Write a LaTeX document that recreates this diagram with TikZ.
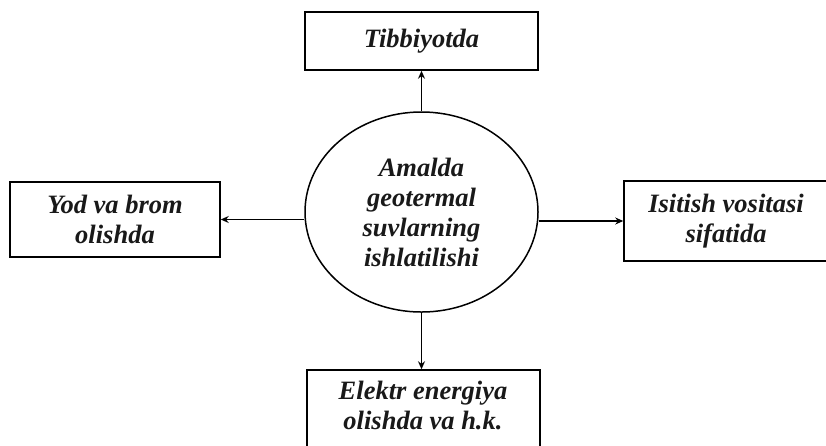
\documentclass[tikz,border=0pt]{standalone}
\usepackage{fontspec}
\setmainfont{Liberation Serif}
\usetikzlibrary{arrows.meta,shapes.geometric}
\begin{document}
\begin{tikzpicture}[x=1pt,y=-1pt,
  lbl/.style={font=\fontsize{26.5}{30}\selectfont\bfseries\itshape, text=black!90, align=center},
  box/.style={lbl, draw, line width=1.5pt, inner sep=0pt},
  conn/.style={line width=1.6pt, -{Stealth[length=8pt,width=7pt]}}]
\useasboundingbox (0,0) rectangle (826,445);
\clip (0,0) rectangle (826,445);
\node[lbl, draw, line width=1.5pt, ellipse, minimum width=233, minimum height=200, inner sep=0pt] (c) at (421.5,212)
  {Amalda\\geotermal\\suvlarning\\ishlatilishi};
\node[box, minimum width=233, minimum height=58] (t) at (421.5,41) {Tibbiyotda};
\node[box, minimum width=210, minimum height=75] (l) at (115,219.5) {Yod va brom\\olishda};
\node[box, minimum width=204, minimum height=80] (r) at (726,221) {Isitish vositasi\\sifatida};
\node[box, minimum width=233, minimum height=82] (b) at (423.5,411) {};
\node[lbl] (bt) at (423,405) {Elektr energiya\\olishda va h.k.};
\draw[conn] (c.north) -- (t.south);
\draw[conn] (c.south) -- (b.north -| c.south);
\draw[conn] (c.west |- l.east) -- (l.east);
\draw[conn] (c.east |- r.west) -- (r.west);
\end{tikzpicture}
\end{document}
